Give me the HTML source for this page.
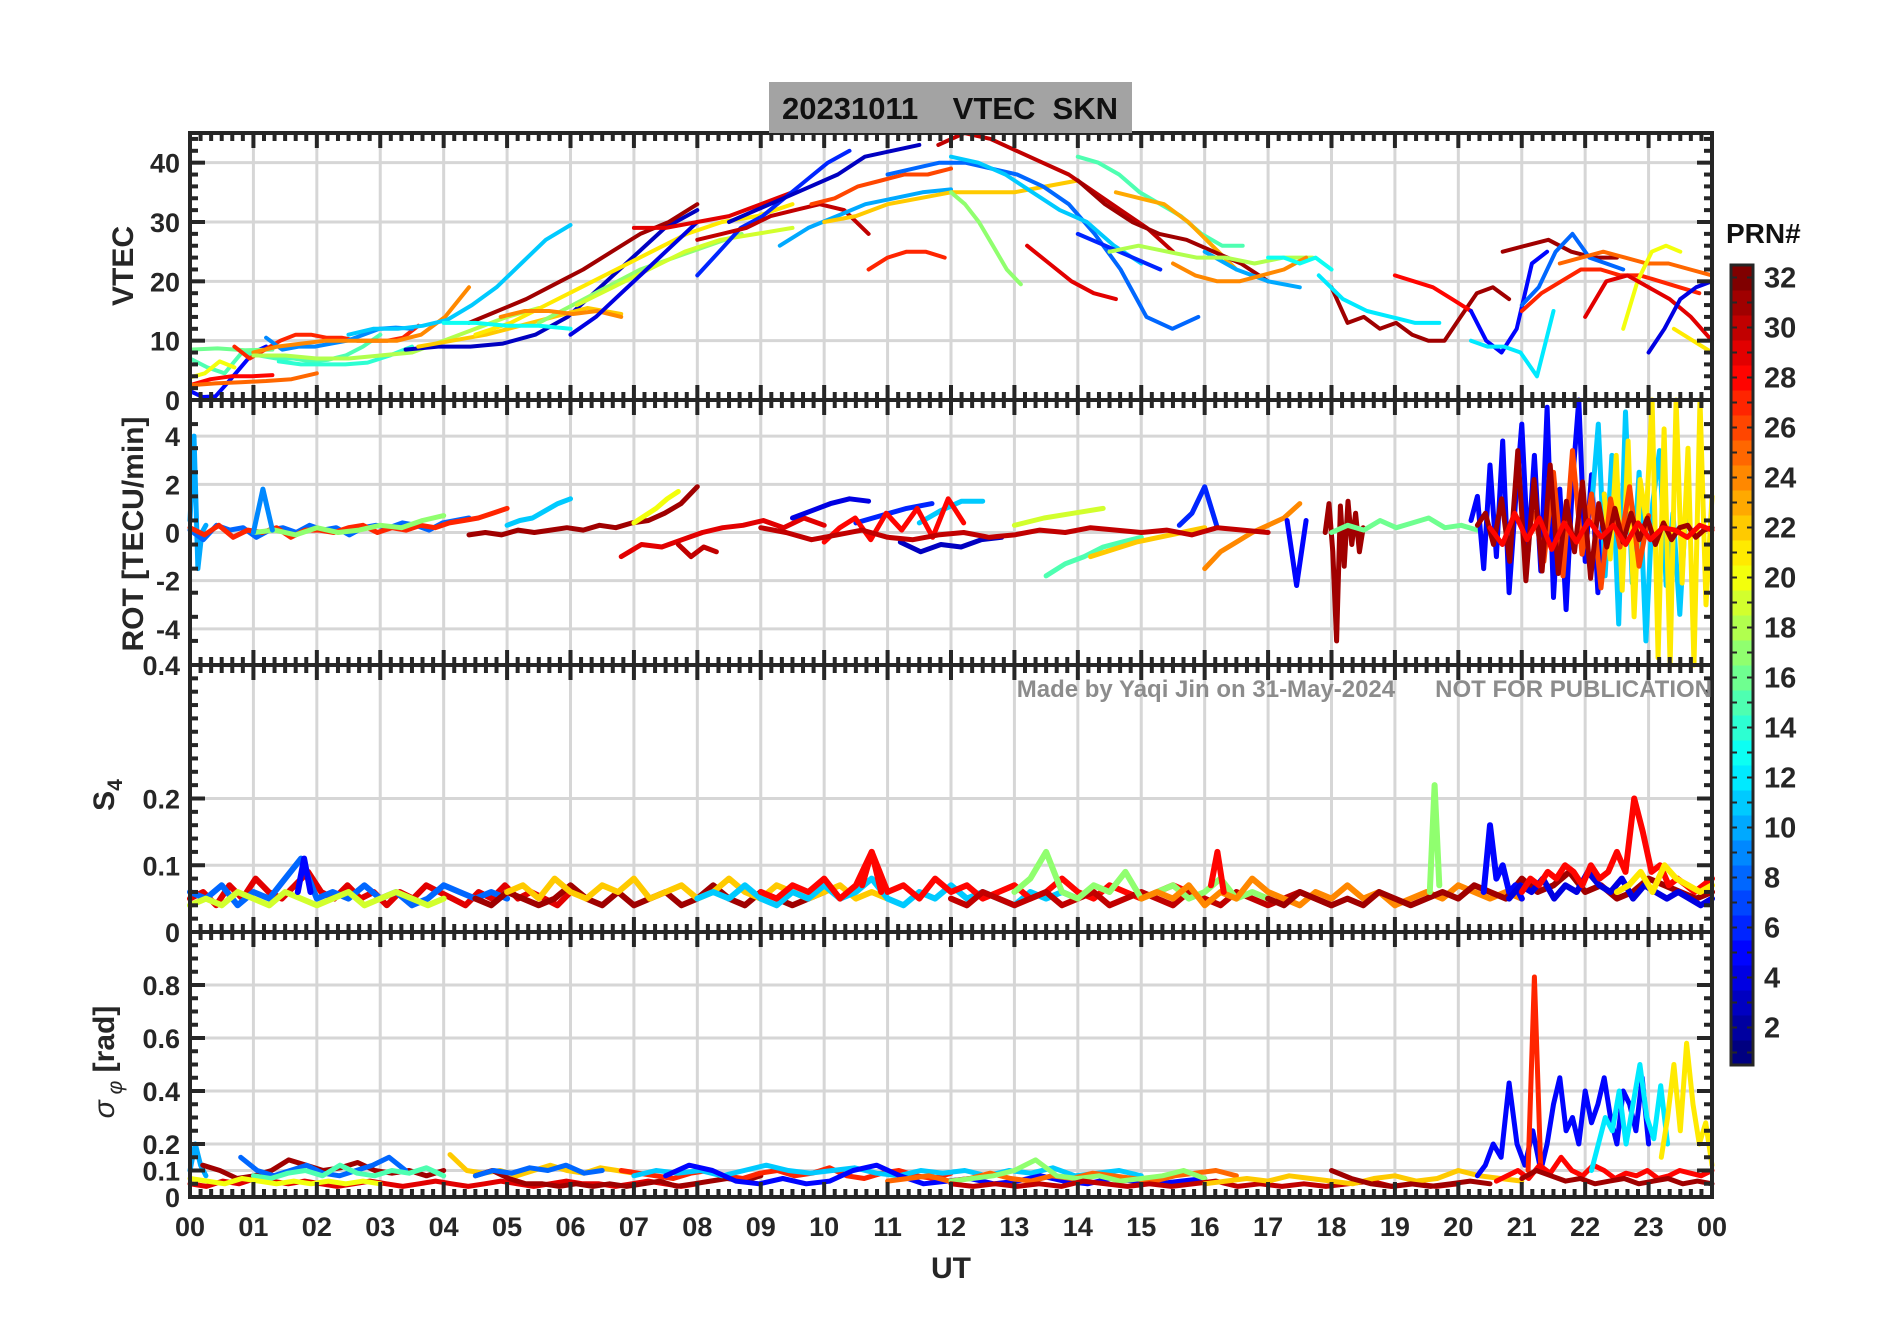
<!DOCTYPE html>
<html><head><meta charset="utf-8"><style>
html,body{margin:0;padding:0;background:#fff;}
svg{display:block;font-family:"Liberation Sans",Arial,sans-serif;}
</style></head><body>
<svg id="chart" width="1902" height="1330" viewBox="0 0 1902 1330" xmlns="http://www.w3.org/2000/svg">
<rect width="1902" height="1330" fill="#fff"/>
<g id="grids"></g><g id="marks"></g><g id="axes"></g>
<rect x="769" y="82" width="363" height="51" fill="#a3a3a3"/>
<text x="950" y="119" font-size="31" font-weight="bold" text-anchor="middle" fill="#111" xml:space="preserve">20231011    VTEC  SKN</text>
<text x="1712" y="697" font-size="24" font-weight="bold" text-anchor="end" fill="#8c8c8c" xml:space="preserve">Made by Yaqi Jin on 31-May-2024      NOT FOR PUBLICATION</text>
<text x="951" y="1278" font-size="30" font-weight="bold" text-anchor="middle" fill="#262626">UT</text>
<text transform="translate(133,266) rotate(-90)" font-size="30" font-weight="bold" text-anchor="middle" fill="#262626">VTEC</text>
<text transform="translate(143,534) rotate(-90)" font-size="30" font-weight="bold" text-anchor="middle" fill="#262626">ROT [TECU/min]</text>
<text transform="translate(114,795) rotate(-90)" font-size="30" font-weight="bold" text-anchor="middle" fill="#262626">S<tspan font-size="21" dy="8">4</tspan></text>
<text transform="translate(114,1062) rotate(-90)" font-size="30" font-weight="bold" text-anchor="middle" fill="#262626"><tspan font-style="italic" font-weight="normal">σ</tspan><tspan font-size="21" dy="8" font-style="italic" font-weight="normal"> φ</tspan><tspan dy="-8"> [rad]</tspan></text>
<g id="colorbar"></g>
<text x="1726" y="243" font-size="28" font-weight="bold" fill="#111">PRN#</text>
</svg>
<script>
const hourLabels=["00","01","02","03","04","05","06","07","08","09","10","11","12","13","14","15","16","17","18","19","20","21","22","23","00"];
const vtecTicks=[0,10,20,30,40];
const rotTicks=[-4,-2,0,2,4];
const s4Ticks=[0,0.1,0.2,0.4];
const sigTicks=[0,0.1,0.2,0.4,0.6,0.8];
const cbTicks=[2,4,6,8,10,12,14,16,18,20,22,24,26,28,30,32];
// arcs: [prn, tStart(h), tEnd(h), values]
const vtecArcs=[
[5,0,1.2,[1.5,0.5,0.6,3,5.5,8,9]],
[16,0,1.3,[8.5,8.7,8.4,8.5]],
[15,0,3.0,[7,5.5,4.5,8,7.5,7,7,6.5,6.8,7.5,9,11]],
[20,0,0.7,[3.8,4.5,6.5,5.5]],
[28,0,1.3,[2.5,3.5,4,4,4.2]],
[25,0,2.0,[2.5,2.8,3,3.2,3.5,4.5]],
[27,0.7,3.6,[9,7,8.5,10,11,11,10.5,10.5,10,10,10,10.5,12.5]],
[9,1.2,3.5,[10.5,8.5,9,9,9.5,10,11,12,12.2,12]],
[24,1.0,4.4,[8,9,9.5,10,10,10,10,11,14,19]],
[14,1.4,3.5,[6.5,6,6,6,6.3,7.5,9]],
[18,1.0,5.5,[7.5,7.5,7,7,7.5,8,10,12,14,15.5]],
[11,2.5,6.0,[11,12,12,12.5,13.5,16,19,23,27,29.5]],
[3,3.4,8.0,[8.5,9,9,9.5,11,14,19,24,29,32]],
[31,4.4,8.0,[13,15,17,19.5,22,25,28,30,33]],
[22,3.6,6.8,[9,10,11,12.5,14,15.5,14.5]],
[21,4.5,9.5,[11,13,16,19,22,25,28,30,31,33]],
[17,5.5,8.7,[13,16,19,22,24,26,28]],
[19,6.1,9.5,[16,19,22,25,27,28,29]],
[13,4.0,6.0,[13,13,12.5,12.5,12]],
[24,4.9,6.8,[14,15,15,14.5,15,14]],
[4,6.0,8.0,[11,14,18,22,26,30]],
[29,7.0,9.5,[29,29,30,31,33,35]],
[6,8.0,10.4,[21,25,29,31,34,37,40,42]],
[30,8.0,10.7,[27,28,29,31,32,33,32,28]],
[3,8.5,11.5,[30,32,34,36,38,41,42,43]],
[10,9.3,12.0,[26,29,31,33,34,35,35.5]],
[27,10.7,11.9,[22,24,25,25,24]],
[22,10.0,14.0,[30,31,33,34,35,35,35,36,37]],
[26,9.8,12.0,[33,34,36,37,38,38,39]],
[8,11.0,15.9,[38,39,40,40,39,38,36,33,28,22,14,12,14]],
[30,11.8,15.5,[43,45,44,42,40,38,35,32,29,25]],
[17,12.0,13.1,[35,33,30,26,22,19.5]],
[11,12.0,15.0,[41,40,38,35,32,30,26,23]],
[29,13.2,14.6,[26,23,20,18,17]],
[15,14.0,16.6,[41,40,38,35,33,31,28,26,26]],
[23,14.6,16.5,[35,34,33,30,26,22]],
[31,14.0,17.0,[37,33,30,28,27,25,23,20]],
[6,14.0,15.3,[28,26,24,22]],
[10,16.0,17.5,[25,22,20,19]],
[18,14.5,17.7,[25,26,25,24,24,23,24,24]],
[24,15.5,17.6,[23,21,20,20,21,22,24]],
[13,17.0,18.0,[24,24,23,24,22]],
[31,18.0,20.8,[19,13,14,12,13,11,10,10,14,18,19,17]],
[12,17.8,19.7,[21,17,15,14,13,13]],
[28,19.0,20.2,[21,20,19,17,15]],
[5,20.2,21.4,[15,10,8,12,23,25]],
[12,20.2,21.5,[10,9,9,8,4,15]],
[31,20.7,22.5,[25,26,27,25,24,24]],
[8,21.0,22.6,[16,19,25,28,24,23,22]],
[27,21.0,23.8,[15,18,20,22,22,21,21,20,19,18]],
[25,21.6,24,[23,24,25,24,23,23,22,21]],
[20,22.6,23.5,[12,20,25,26,25]],
[29,22.0,24,[14,20,21,19,17,14,10]],
[4,23.0,24,[8,12,17,19,20]],
[21,23.4,24,[12,10,8]]
];
const rotArcs=[
[10,0,0.25,[0.5,4,-1.5,0,0.3]],
[8,0,4.4,[0.1,-0.3,0.3,0.1,0.2,-0.2,0.1,0.2,0,0.3,0.1,0.2,-0.1,0.2,0.3,0.2,0.4,0.3,0.1,0.4,0.5,0.6]],
[27,0,5,[0.2,-0.1,0.3,-0.2,0.1,0,0.2,-0.2,0.1,0.1,0,0.2,0.3,0,0.2,0.1,0.3,0.2,0.4,0.5,0.6,0.8,1.0]],
[17,1,4,[0,0.1,-0.1,0.2,0,0.1,0.3,0.2,0.5,0.7]],
[9,1,1.3,[0,1.8,0.1]],
[31,4.4,8.0,[-0.1,0,-0.1,0.1,0,0.1,0.2,0.1,0.3,0.2,0.4,0.5,0.8,1.2,1.9]],
[11,5,6,[0.3,0.5,0.6,0.9,1.2,1.4]],
[20,7,7.7,[0.4,0.7,1.0,1.4,1.7]],
[29,6.8,10,[-1,-0.5,-0.6,-0.3,0,0.2,0.3,0.5,0.2,0.6,0.3]],
[30,7.7,8.3,[-0.5,-1,-0.6,-0.8]],
[4,9.5,10.7,[0.6,0.9,1.2,1.4,1.3]],
[6,10.5,11.7,[0.4,0.7,1.0,1.2]],
[11,11.5,12.5,[0.4,0.9,1.3,1.3]],
[19,13,14.4,[0.3,0.6,0.8,1.0]],
[28,10,12.2,[-0.4,0.2,0.6,-0.3,0.8,0.1,1.0,-0.2,1.4,0.4]],
[3,11.2,12.8,[-0.4,-0.8,-0.5,-0.6,-0.3,-0.2]],
[15,13.5,15,[-1.8,-1.3,-1,-0.6,-0.4,-0.2]],
[22,14.2,16,[-1,-0.7,-0.4,-0.2,0,0.2]],
[24,16,17.5,[-1.5,-0.8,-0.4,0,0.3,0.6,1.2]],
[6,15.6,16.2,[0.3,0.8,1.9,0.2]],
[30,9,17,[0.2,0,-0.3,-0.1,0.1,-0.2,-0.3,-0.1,0,-0.2,-0.1,0.1,0,0.2,0.1,0,0.1,-0.1,0.2,0.1,0]],
[5,17.3,17.6,[0.5,-2.2,0.5]],
[31,17.9,18.5,[0,1.2,-0.8,-4.5,1.1,-1.4,1.3,-0.5,0.8,-0.8,0.2]],
[16,18,20.3,[0,0.3,0.1,0.5,0.2,0.4,0.6,0.2,0.3,0.1]],
[5,20.2,22.3,[0.5,1.5,-1.5,2.8,-1,3.8,-2.5,1.2,4.5,-0.8,3.2,-1.6,5.2,-2.7,1.8,-3.2,2.1,5.5,-1.2,2.4,-2.5,1.6]],
[11,22.1,23.6,[1,4.5,-1.8,3.2,-3.8,5,-2.1,2.5,-4.5,1.2,3.4,-2.2,0.8,-3.4,1.5]],
[21,22.3,24,[1.6,-1.1,3.2,-2.4,3.8,-3.5,2.2,0.5,5.6,-5.2,4.3,-5.6,5.5,-2.1,3.5,-5.5,5.6,-3,1.5]],
[26,21.2,23,[0.8,-1.2,2.5,-1.8,3.4,-0.9,1.6,-2.3,1.4,-0.6,1.9,-1.4,0.7]],
[31,20.3,24,[0.3,0.8,-0.5,1.4,-1.2,3.4,-2,2.2,-1.6,2.8,-1.7,1.3,-0.8,2.1,-1.9,1.2,-0.6,1,-0.4,0.8,-0.3,0.6,-0.5,0.4,-0.3,0.2,0.3,-0.2,0.1,0.2]],
[28,20.5,24,[0.2,-0.5,0.8,-0.3,0.6,-0.7,0.4,-0.4,0.5,-0.2,0.3,-0.5,0.4,-0.3,0.2,0.1,-0.2,0.3,0.1]]
];
const s4Arcs=[
[29,0,6,[.05,.06,.04,.07,.05,.08,.06,.05,.07,.09,.06,.05,.07,.05,.06,.04,.06,.05,.07,.06,.05,.04,.06,.05,.07,.05,.06,.05,.04,.06]],
[8,0,5,[.06,.05,.07,.04,.06,.05,.08,.11,.05,.06,.05,.07,.05,.06,.04,.05,.07,.06,.05,.06,.05]],
[19,0,4,[.04,.05,.04,.06,.05,.04,.06,.05,.04,.05,.06,.04,.05,.06,.05,.04,.05]],
[31,4.5,10,[.05,.04,.06,.05,.04,.05,.07,.05,.04,.06,.04,.05,.06,.04,.05,.07,.05,.04,.06,.05,.04,.05,.06]],
[22,5,11,[.06,.07,.05,.08,.06,.05,.07,.06,.08,.05,.06,.07,.05,.06,.08,.06,.05,.07,.06,.05,.06,.07,.05,.06,.05]],
[11,8,14,[.05,.06,.05,.07,.05,.04,.06,.05,.07,.05,.06,.08,.05,.04,.06,.05,.07,.05,.06,.05,.04,.06,.05,.06,.05]],
[28,9,16,[.06,.05,.07,.06,.08,.05,.07,.12,.06,.07,.05,.08,.06,.07,.05,.06,.07,.05,.06,.08,.06,.05,.07,.06,.05,.06,.07,.06,.05]],
[30,12,18,[.05,.04,.06,.05,.04,.05,.06,.04,.05,.06,.04,.05,.06,.05,.04,.06,.05,.04,.06,.05,.04,.05,.06,.05,.04]],
[17,13,17,[.06,.08,.12,.06,.05,.07,.06,.09,.05,.06,.07,.05,.06,.08,.05,.06,.05]],
[24,15,21,[.05,.06,.05,.07,.04,.06,.05,.08,.06,.05,.04,.06,.05,.07,.05,.06,.04,.05,.06,.05,.07,.06,.05,.06,.05]],
[28,16.1,16.3,[.07,.12,.06]],
[31,17,24,[.05,.04,.06,.05,.04,.05,.04,.06,.05,.04,.05,.06,.05,.07,.06,.05,.08,.06,.07,.09,.06,.07,.05,.06,.08,.07,.06,.05,.06]],
[17,19.55,19.7,[.06,.22,.07]],
[5,20.4,21,[.06,.16,.08,.1,.06,.07,.05]],
[4,20.8,24,[.05,.07,.06,.08,.05,.07,.06,.09,.07,.06,.08,.05,.07,.06,.05,.06,.05,.04,.05]],
[28,21,24,[.06,.08,.07,.09,.08,.1,.09,.07,.1,.08,.09,.12,.09,.2,.15,.09,.1,.07,.08,.07,.06,.07,.08]],
[21,22.5,24,[.06,.07,.09,.06,.1,.08,.07,.06,.07]],
[5,1.7,1.9,[.06,.11,.06]],
[28,10.6,10.9,[.07,.12,.06]]
];
const sigArcs=[
[10,0,0.25,[.1,.2,.12,.08]],
[29,0,8,[.05,.04,.06,.05,.07,.06,.05,.06,.05,.04,.05,.06,.05,.04,.05,.06,.05,.04,.05,.06,.05,.04,.05,.06,.05,.05,.04,.05,.06,.05,.04,.05]],
[31,0.2,4,[.12,.1,.07,.08,.1,.14,.12,.1,.11,.13,.1,.09,.1,.08,.1]],
[8,0.8,3.4,[.15,.1,.08,.1,.12,.09,.08,.1,.12,.15,.1]],
[15,1,4,[.08,.07,.09,.1,.08,.12,.09,.08,.1,.09,.11,.08]],
[20,0,3,[.07,.06,.05,.07,.06,.05,.06,.05,.06,.05,.06,.05]],
[22,4.1,7,[.16,.1,.09,.1,.08,.1,.12,.1,.09,.11,.1,.09]],
[31,4.5,9,[.08,.1,.07,.05,.05,.04,.05,.04,.05,.04,.05,.06,.04,.05,.06,.07,.06,.08]],
[8,4.5,6.5,[.08,.1,.09,.11,.1,.12,.09,.1]],
[27,6.8,12,[.1,.09,.08,.07,.09,.1,.08,.07,.09,.1,.08,.09,.11,.08,.07,.09,.1,.08,.07,.09]],
[11,7,15,[.08,.1,.09,.1,.08,.1,.12,.1,.09,.1,.11,.09,.08,.1,.09,.1,.08,.1,.09,.11,.08,.09,.1,.08]],
[5,7.5,16,[.08,.12,.1,.06,.05,.07,.05,.06,.1,.12,.08,.05,.06,.07,.05,.06,.08,.06,.05,.07,.06,.05,.06,.07]],
[25,11,16.5,[.06,.07,.08,.06,.07,.09,.07,.06,.08,.07,.09,.08,.07,.06,.08,.09,.1,.08]],
[17,12,16,[.06,.07,.08,.1,.14,.08,.07,.08,.06,.07,.08,.1,.07]],
[30,12,20,[.05,.04,.05,.04,.05,.04,.06,.05,.04,.05,.04,.05,.06,.04,.05,.04,.05,.04,.05,.06,.04,.05,.04,.05]],
[22,16,21,[.05,.06,.07,.06,.08,.07,.06,.05,.07,.08,.06,.07,.1,.08,.07,.06]],
[31,18,20.5,[.1,.07,.05,.04,.05,.04,.05,.06,.05]],
[5,20.3,21.3,[.08,.12,.2,.15,.43,.2,.12,.25,.1]],
[5,21.3,23,[.1,.2,.35,.45,.25,.3,.2,.4,.28,.35,.45,.3,.2,.4,.35,.25,.45,.2]],
[27,21.1,21.3,[.1,.83,.1]],
[28,20.6,24,[.06,.08,.1,.07,.12,.09,.15,.1,.08,.12,.1,.07,.09,.08,.1,.07,.08,.1,.09,.08,.1]],
[12,22.1,23.3,[.1,.2,.3,.25,.4,.2,.35,.5,.3,.22,.42,.2]],
[21,23.2,24,[.15,.3,.5,.25,.58,.35,.2,.28,.12]],
[31,21,24,[.07,.1,.08,.06,.07,.05,.06,.07,.05,.06,.07,.05,.06,.05]]
];

const NS="http://www.w3.org/2000/svg";
const X0=190,X1=1712;
const panels=[
 {name:"vtec",top:133,bot:400,min:0,max:45,ticks:vtecTicks,minor:2,arcs:vtecArcs,sw:4,fmt:v=>String(v)},
 {name:"rot",top:400,bot:665,min:-5.5,max:5.5,ticks:rotTicks,minor:1,arcs:rotArcs,sw:5,fmt:v=>String(v)},
 {name:"s4",top:665,bot:932,min:0,max:0.4,ticks:s4Ticks,minor:0.02,arcs:s4Arcs,sw:6,fmt:v=>v===0?"0":String(v)},
 {name:"sigma",top:932,bot:1197,min:0,max:1.0,ticks:sigTicks,minor:0.05,arcs:sigArcs,sw:5,fmt:v=>v===0?"0":String(v)}
];
function xs(t){return X0+(X1-X0)*t/24;}
function ys(p,v){v=Math.max(p.min,Math.min(p.max,v));return p.bot-(p.bot-p.top)*(v-p.min)/(p.max-p.min);}
function jet(prn){const v=(prn-1)/31;const c=x=>Math.round(255*Math.max(0,Math.min(1,1.5-Math.abs(4*v-x))));return `rgb(${c(3)},${c(2)},${c(1)})`;}
function mk(tag,attrs,parent){const e=document.createElementNS(NS,tag);for(const k in attrs)e.setAttribute(k,attrs[k]);parent.appendChild(e);return e;}
const grids=document.getElementById('grids'),marks=document.getElementById('marks'),axes=document.getElementById('axes');
const dark="#262626";
panels.forEach(p=>{
  for(let h=1;h<24;h++){const g=mk('line',{x1:xs(h),x2:xs(h),y1:p.top,y2:p.bot,stroke:"#d6d6d6","stroke-width":3},grids);
    
    }
  p.ticks.forEach(v=>{if(v===p.min)return;const g=mk('line',{x1:X0,x2:X1,y1:ys(p,v),y2:ys(p,v),stroke:"#d6d6d6","stroke-width":3},grids);
    
    });
  const grp=mk('g',{},marks);
  
  
  p.arcs.forEach(a=>{const [prn,t0,t1,vals]=a;const n=vals.length;
    const pts=vals.map((v,i)=>xs(t0+(t1-t0)*i/(n-1)).toFixed(1)+","+ys(p,v).toFixed(1)).join(" ");
    const pl=mk('polyline',{points:pts,fill:"none",stroke:jet(prn),"stroke-width":p.sw,"stroke-linejoin":"round","stroke-linecap":"round"},grp);
    
    
  });
  const ax=mk('g',{},axes);
  
  
  mk('rect',{x:X0,y:p.top,width:X1-X0,height:p.bot-p.top,fill:"none",stroke:dark,"stroke-width":4},ax);
  for(let m=0;m<=144;m++){const x=xs(m/6);const L=(m%6===0)?15:8;
    mk('line',{x1:x,x2:x,y1:p.top,y2:p.top+L,stroke:dark,"stroke-width":4},ax);
    mk('line',{x1:x,x2:x,y1:p.bot,y2:p.bot-L,stroke:dark,"stroke-width":4},ax);}
  const nMin=Math.round((p.max-p.min)/p.minor);
  for(let i=0;i<=nMin;i++){const v=p.min+i*p.minor;const y=ys(p,v);
    const major=p.ticks.some(t=>Math.abs(t-v)<1e-6);const L=major?15:8;
    mk('line',{x1:X0,x2:X0+L,y1:y,y2:y,stroke:dark,"stroke-width":4},ax);
    mk('line',{x1:X1,x2:X1-L,y1:y,y2:y,stroke:dark,"stroke-width":4},ax);}
  p.ticks.forEach(v=>{const t=mk('text',{x:X0-10,y:ys(p,v)+10,"font-size":27,"font-weight":"bold","text-anchor":"end",fill:dark},ax);t.textContent=p.fmt(v);
    
    });
});
hourLabels.forEach((s,i)=>{const t=mk('text',{x:xs(i),y:1236,"font-size":27,"font-weight":"bold","text-anchor":"middle",fill:dark},axes);t.textContent=s;
  
  });
const cb=document.getElementById('colorbar');


const CT=265,CB=1065,CX=1731,CW=22;
function cy(v){return CB-(CB-CT)*(v-0.5)/32;}
for(let p=1;p<=32;p++){mk('rect',{x:CX,y:cy(p+0.5),width:CW,height:(CB-CT)/32+0.5,fill:jet(p)},cb);}
mk('rect',{x:CX,y:CT,width:CW,height:CB-CT,fill:"none",stroke:dark,"stroke-width":3},cb);
for(let p=1;p<=32;p++){const y=cy(p);mk('line',{x1:CX,x2:CX+6,y1:y,y2:y,stroke:dark,"stroke-width":2},cb);mk('line',{x1:CX+CW,x2:CX+CW-6,y1:y,y2:y,stroke:dark,"stroke-width":2},cb);}
cbTicks.forEach(v=>{const t=mk('text',{x:1764,y:cy(v)+10,"font-size":29,"font-weight":"bold",fill:dark},cb);t.textContent=String(v);
  
  });
</script>
</body></html>
